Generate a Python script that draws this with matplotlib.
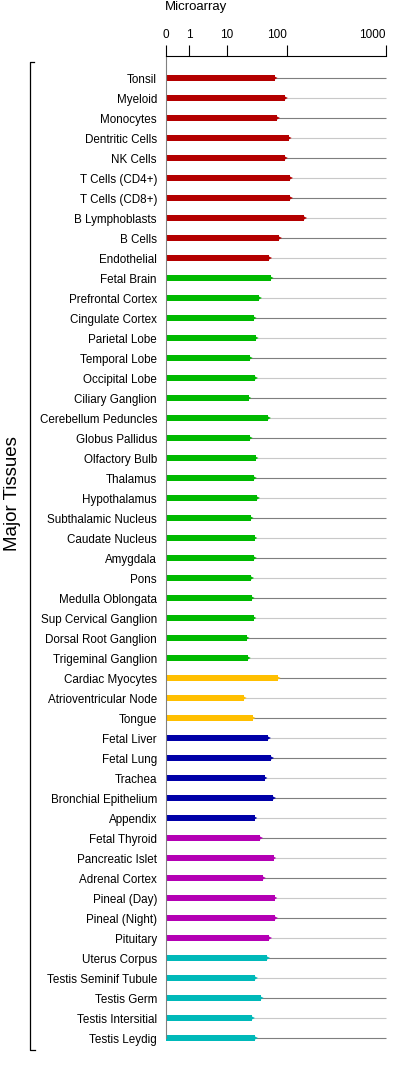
import numpy as np
import matplotlib
matplotlib.use("Agg")
from matplotlib import pyplot as plt
from matplotlib.lines import Line2D

plt.rcParams['font.family'] = ['Liberation Sans', 'DejaVu Sans']

#########################################
tissues = [
    "Tonsil", "Myeloid", "Monocytes", "Dentritic Cells", "NK Cells",
    "T Cells (CD4+)", "T Cells (CD8+)", "B Lymphoblasts", "B Cells", "Endothelial",
    "Fetal Brain", "Prefrontal Cortex", "Cingulate Cortex", "Parietal Lobe",
    "Temporal Lobe", "Occipital Lobe", "Ciliary Ganglion", "Cerebellum Peduncles",
    "Globus Pallidus", "Olfactory Bulb", "Thalamus", "Hypothalamus",
    "Subthalamic Nucleus", "Caudate Nucleus", "Amygdala", "Pons",
    "Medulla Oblongata", "Sup Cervical Ganglion", "Dorsal Root Ganglion",
    "Trigeminal Ganglion", "Cardiac Myocytes", "Atrioventricular Node", "Tongue",
    "Fetal Liver", "Fetal Lung", "Trachea", "Bronchial Epithelium", "Appendix",
    "Fetal Thyroid", "Pancreatic Islet", "Adrenal Cortex", "Pineal (Day)",
    "Pineal (Night)", "Pituitary", "Uterus Corpus", "Testis Seminif Tubule",
    "Testis Germ", "Testis Intersitial", "Testis Leydig",
]

values = [
    68.0, 94.0, 73.5, 105.3, 94.0, 109.5, 109.5, 163.0, 78.3, 56.6,
    59.6, 39.7, 32.6, 35.1, 28.0, 34.3, 26.5, 54.5, 28.0, 34.8,
    32.9, 36.9, 29.0, 33.4, 32.9, 29.5, 30.2, 32.3, 24.7, 25.9,
    75.0, 22.0, 31.2,
    54.5, 60.5, 48.3, 64.6, 33.4,
    41.3, 65.1, 45.7, 67.5, 68.9, 56.6,
    52.9, 34.3, 42.3, 30.5, 34.3,
]

groups = [0]*10 + [1]*20 + [2]*3 + [3]*5 + [4]*6 + [5]*5
group_colors = ["#b40000", "#00b900", "#ffbf00", "#0000a8", "#b400b4", "#00b9b9"]

ticks = [0, 1, 10, 100, 1000]
tick_labels = ["0", "1", "10", "100", "1000"]


#########################################
# axis scale: linear below 1, power-ish above (matches the chart's axis)
def fwd(x):
    x = np.asarray(x, dtype=float)
    return np.where(x < 1, 0.1045*x,
                    0.1045 + 0.274*(np.maximum(x, 1e-9)**0.21 - 1))


def inv(f):
    f = np.asarray(f, dtype=float)
    return np.where(f < 0.1045, f/0.1045,
                    (1 + (np.maximum(f, 0.1045) - 0.1045)/0.274)**(1/0.21))


W, H = 393, 1080
fig = plt.figure(figsize=(W/100, H/100), dpi=100)
ax = fig.add_axes([166/W, 1 - 1038/H, 220/W, (1038 - 56)/H])
ax.set_xscale('function', functions=(fwd, inv))

n = len(tissues)
ys = np.arange(n)
line_cols = ["#7f7f7f" if i % 2 == 0 else "#c8c8c8" for i in range(n)]
ax.hlines(ys, 0, 1000, colors=line_cols, linewidth=0.8, zorder=1, clip_on=False)

cols = [group_colors[g] for g in groups]
ax.barh(ys, values, left=0, height=0.26, color=cols, zorder=2, clip_on=False)
ax.scatter(values, ys, marker='>', s=14, c=cols, linewidths=0, zorder=3,
           clip_on=False)

ax.set_xlim(0, 1000)
ax.set_ylim(48, -1.1)

ax.xaxis.tick_top()
ax.set_xticks(ticks)
ax.set_xticklabels(tick_labels)
ax.tick_params(axis='x', length=8, width=0.8, color='black', direction='out',
               pad=3, labelsize=8.5)
for lab, t in zip(ax.get_xticklabels(), ticks):
    if t >= 100:
        lab.set_horizontalalignment('right')
ax.xaxis.set_minor_locator(matplotlib.ticker.NullLocator())

ax.set_yticks(ys)
ax.set_yticklabels(tissues)
ax.tick_params(axis='y', length=0, pad=6.5, labelsize=8.4)

for s in ['right', 'bottom']:
    ax.spines[s].set_visible(False)
ax.spines['top'].set_color('black')
ax.spines['top'].set_linewidth(0.8)
ax.spines['left'].set_color('#808080')
ax.spines['left'].set_linewidth(0.8)

fig.text(165/W, 1 - 7/H, "Microarray", ha='left', va='center', fontsize=9.5)
fig.text(13/W, 1 - 494/H, "Major Tissues", rotation=90, ha='center',
         va='center', fontsize=13.5)

# bracket on the left
bx = [34/W, 30/W, 30/W, 35/W]
by = [1 - 62/H, 1 - 62/H, 1 - 1050/H, 1 - 1050/H]
fig.add_artist(Line2D(bx, by, transform=fig.transFigure, color='black',
                      linewidth=0.9))

fig.savefig("out.png", dpi=100)
